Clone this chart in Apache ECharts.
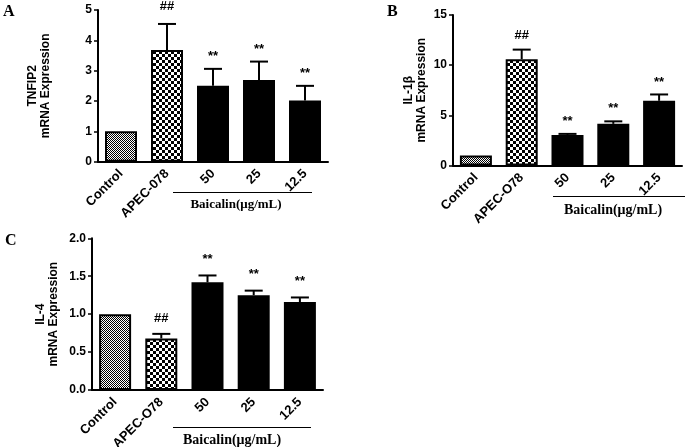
<!DOCTYPE html>
<html>
<head>
<meta charset="utf-8">
<script src="https://cdn.jsdelivr.net/npm/echarts@6/dist/echarts.min.js"></script>
<style>
html,body{margin:0;padding:0;background:#fff;}
#chart{width:685px;height:447px;}
</style>
</head>
<body>
<div id="chart"></div>
<script>
// ---- data ----
var categoriesA = ['Control', 'APEC-078', '50', '25', '12.5'];
var categoriesBC = ['Control', 'APEC-O78', '50', '25', '12.5'];

var meansA = [1.0, 3.68, 2.50, 2.69, 2.02];
var semA   = [0, 0.86, 0.56, 0.61, 0.48];
var marksA = ['', '##', '**', '**', '**'];

var meansB = [1.0, 10.6, 3.05, 4.15, 6.45];
var semB   = [0, 0.95, 0.10, 0.25, 0.63];
var marksB = ['', '##', '**', '**', '**'];

var meansC = [1.0, 0.68, 1.42, 1.25, 1.16];
var semC   = [0, 0.06, 0.09, 0.06, 0.06];
var marksC = ['', '##', '**', '**', '**'];

var yTitleA = 'TNFIP2';
var yTitleB = 'IL-1β';
var yTitleC = 'IL-4';
var yTitle2 = 'mRNA Expression';
var groupLabel = 'Baicalin(μg/mL)';

// ---- patterns ----
function makePattern(cell, dark) {
  var c = document.createElement('canvas');
  c.width = cell * 2; c.height = cell * 2;
  var g = c.getContext('2d');
  g.fillStyle = '#fff'; g.fillRect(0, 0, c.width, c.height);
  g.fillStyle = dark;
  g.fillRect(0, 0, cell, cell);
  g.fillRect(cell, cell, cell, cell);
  return {image: c, repeat: 'repeat'};
}
var fine = makePattern(1, '#000');
var coarse = makePattern(3, '#000');

function barData(vals) {
  return vals.map(function (v, i) {
    if (i === 0) return {value: v, itemStyle: {color: fine, borderColor: '#000', borderWidth: 2}};
    if (i === 1) return {value: v, itemStyle: {color: coarse, borderColor: '#000', borderWidth: 2}};
    return {value: v, itemStyle: {color: '#000'}};
  });
}

var sansBold = {fontFamily: 'Liberation Sans, Arial, sans-serif', fontWeight: 'bold', color: '#000'};

function errSeries(idx, means, sems, marks, starGap, hashGap) {
  var data = means.map(function (m, i) { return [i, m, m + sems[i], marks[i]]; });
  return {
    type: 'custom', xAxisIndex: idx, yAxisIndex: idx, z: 5,
    data: data,
    renderItem: function (params, api) {
      var i = api.value(0);
      var p0 = api.coord([i, api.value(1)]);
      var p1 = api.coord([i, api.value(2)]);
      var children = [];
      if (api.value(2) > api.value(1)) {
        children.push({type: 'line', shape: {x1: p0[0], y1: p0[1], x2: p1[0], y2: p1[1]}, style: {stroke: '#000', lineWidth: 2}});
        children.push({type: 'line', shape: {x1: p1[0] - 9, y1: p1[1], x2: p1[0] + 9, y2: p1[1]}, style: {stroke: '#000', lineWidth: 2}});
      }
      var mk = data[params.dataIndex][3];
      if (mk) {
        var gap = mk === '##' ? hashGap : starGap;
        children.push({type: 'text', x: p1[0], y: p1[1] - gap, style: {text: mk, textAlign: 'center', textVerticalAlign: 'bottom', fontSize: 13, fontFamily: 'Liberation Sans, Arial, sans-serif', fontWeight: 'bold', fill: '#000'}});
      }
      return {type: 'group', children: children};
    }
  };
}

function xAxis(idx, cats) {
  return {
    type: 'category', gridIndex: idx, data: cats,
    axisLine: {lineStyle: {color: '#000', width: 2}},
    axisTick: {alignWithLabel: true, length: 4, lineStyle: {color: '#000', width: 1.5}},
    axisLabel: Object.assign({rotate: 45, fontSize: 13, margin: 10, interval: 0}, sansBold)
  };
}
function yAxis(idx, max, interval, name, gap, dec) {
  return {
    type: 'value', gridIndex: idx, min: 0, max: max, interval: interval,
    name: name, nameLocation: 'middle', nameRotate: 90, nameGap: gap,
    nameTextStyle: Object.assign({fontSize: 12, lineHeight: 13}, sansBold),
    axisLine: {show: true, lineStyle: {color: '#000', width: 2}},
    axisTick: {show: true, length: 4, lineStyle: {color: '#000', width: 1.5}},
    axisLabel: Object.assign({fontSize: 12, margin: 6, formatter: function (v) { return dec ? v.toFixed(1) : String(v); }}, sansBold),
    splitLine: {show: false}
  };
}

var chart = echarts.init(document.getElementById('chart'));
chart.setOption({
  animation: false,
  backgroundColor: '#fff',
  grid: [
    {left: 98, top: 10, width: 230, height: 151.7, containLabel: false, outerBoundsMode: 'none'},
    {left: 453, top: 15, width: 229, height: 150.5, containLabel: false, outerBoundsMode: 'none'},
    {left: 92, top: 238.3, width: 231, height: 151.7, containLabel: false, outerBoundsMode: 'none'}
  ],
  xAxis: [xAxis(0, categoriesA), xAxis(1, categoriesBC), xAxis(2, categoriesBC)],
  yAxis: [
    yAxis(0, 5, 1, yTitleA + '\n' + yTitle2, 46, false),
    yAxis(1, 15, 5, yTitleB + '\n' + yTitle2, 25, false),
    yAxis(2, 2, 0.5, yTitleC + '\n' + yTitle2, 32, true)
  ],
  series: [
    {type: 'bar', xAxisIndex: 0, yAxisIndex: 0, barWidth: 32, data: barData(meansA)},
    {type: 'bar', xAxisIndex: 1, yAxisIndex: 1, barWidth: 32, data: barData(meansB)},
    {type: 'bar', xAxisIndex: 2, yAxisIndex: 2, barWidth: 32, data: barData(meansC)},
    errSeries(0, meansA, semA, marksA, 6, 11),
    errSeries(1, meansB, semB, marksB, 6, 8),
    errSeries(2, meansC, semC, marksC, 10, 9)
  ],
  graphic: [
    {type: 'text', left: 3, top: 4, style: {text: 'A', font: 'bold 16px "Liberation Serif", "Times New Roman", serif', fill: '#000'}},
    {type: 'text', left: 387, top: 4, style: {text: 'B', font: 'bold 16px "Liberation Serif", "Times New Roman", serif', fill: '#000'}},
    {type: 'text', left: 5, top: 233, style: {text: 'C', font: 'bold 16px "Liberation Serif", "Times New Roman", serif', fill: '#000'}},
    {type: 'line', shape: {x1: 173, y1: 192.5, x2: 312, y2: 192.5}, style: {stroke: '#000', lineWidth: 1}},
    {type: 'line', shape: {x1: 553, y1: 196.5, x2: 685, y2: 196.5}, style: {stroke: '#000', lineWidth: 1}},
    {type: 'line', shape: {x1: 173, y1: 427.5, x2: 311, y2: 427.5}, style: {stroke: '#000', lineWidth: 1}},
    {type: 'text', x: 236, y: 205, style: {text: groupLabel, textAlign: 'center', textVerticalAlign: 'middle', font: 'bold 13px "Liberation Serif", "Times New Roman", serif', fill: '#000'}},
    {type: 'text', x: 613, y: 210, style: {text: groupLabel, textAlign: 'center', textVerticalAlign: 'middle', font: 'bold 14px "Liberation Serif", "Times New Roman", serif', fill: '#000'}},
    {type: 'text', x: 232, y: 440, style: {text: groupLabel, textAlign: 'center', textVerticalAlign: 'middle', font: 'bold 14px "Liberation Serif", "Times New Roman", serif', fill: '#000'}}
  ]
});
</script>
</body>
</html>
